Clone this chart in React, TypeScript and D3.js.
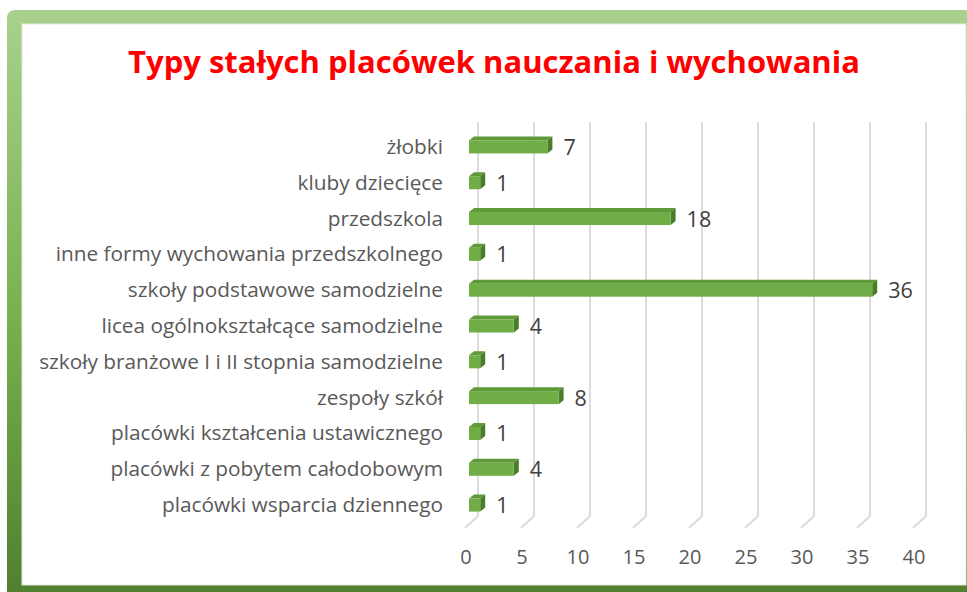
import React from 'react'
import { scaleLinear, scaleBand } from 'd3'

const W = 967
const H = 592

const title = 'Typy stałych placówek nauczania i wychowania'

const categories = [
  'żłobki',
  'kluby dziecięce',
  'przedszkola',
  'inne formy wychowania przedszkolnego',
  'szkoły podstawowe samodzielne',
  'licea ogólnokształcące samodzielne',
  'szkoły branżowe I i II stopnia samodzielne',
  'zespoły szkół',
  'placówki kształcenia ustawicznego',
  'placówki z pobytem całodobowym',
  'placówki wsparcia dziennego',
]

const values = [7, 1, 18, 1, 36, 4, 1, 8, 1, 4, 1]

const ticks = [0, 5, 10, 15, 20, 25, 30, 35, 40]

// 3d-ish depth offsets (excel look)
const depthX = 13
const depthY = 12
const barDx = 5
const barDy = 4
const barH = 13

const x = scaleLinear().domain([0, 40]).range([465, 913])
const y = scaleBand<string>().domain(categories).range([129, 523])

const gridTop = 122
const gridBottom = 516

const App = () => {
  return (
    <svg width={W} height={H} style={{ position: 'absolute', left: 0, top: 0 }}
      fontFamily="'Open Sans', Lato, sans-serif">
      <defs>
        <linearGradient id="frame" x1="0" y1="0" x2="0" y2="1">
          <stop offset="0" stopColor="#a9d18e" />
          <stop offset="0.5" stopColor="#78b04e" />
          <stop offset="1" stopColor="#4b7a2c" />
        </linearGradient>
      </defs>

      {/* frame */}
      <rect x={7} y={10} width={990} height={620} rx={8} fill="url(#frame)" />
      <rect x={22} y={24} width={944} height={561} fill="#fff" stroke="#e2ecdb" strokeWidth={1} />

      <text x={494} y={73} textAnchor="middle" fill="#ff0000" fontSize={31} fontWeight="bold">
        {title}
      </text>

      {/* gridlines: back wall + floor */}
      <g stroke="#d9d9d9" strokeWidth={1.8} fill="none">
        {ticks.map(t => (
          <polyline key={t}
            points={`${x(t) + depthX},${gridTop} ${x(t) + depthX},${gridBottom} ${x(t)},${gridBottom + depthY}`} />
        ))}
      </g>

      {/* x tick labels */}
      <g fill="#595959" fontSize={20} textAnchor="middle">
        {ticks.map(t => (
          <text key={t} x={x(t) + 1} y={564}>{t}</text>
        ))}
      </g>

      {/* category labels */}
      <g fill="#595959" fontSize={20.8} textAnchor="end">
        {categories.map(c => (
          <text key={c} x={443} y={(y(c) ?? 0) + y.bandwidth() / 2 + 7}>{c}</text>
        ))}
      </g>

      {/* bars */}
      {categories.map((c, i) => {
        const v = values[i]
        const cy = (y(c) ?? 0) + y.bandwidth() / 2
        const y0 = cy - barH / 2
        const x0 = x(0) + 4
        const x1 = x(v) + 4
        return (
          <g key={c}>
            <polygon fill="#5e9a38"
              points={`${x0},${y0} ${x0 + barDx},${y0 - barDy} ${x1 + barDx},${y0 - barDy} ${x1},${y0}`} />
            <polygon fill="#4a7d2a"
              points={`${x1},${y0} ${x1 + barDx},${y0 - barDy} ${x1 + barDx},${y0 + barH - barDy} ${x1},${y0 + barH}`} />
            <rect x={x0} y={y0} width={x1 - x0} height={barH} fill="#70ad47" />
            <text x={x1 + barDx + 11} y={cy + 8} fill="#404040" fontSize={21.5}>{v}</text>
          </g>
        )
      })}
    </svg>
  )
}

export default App
